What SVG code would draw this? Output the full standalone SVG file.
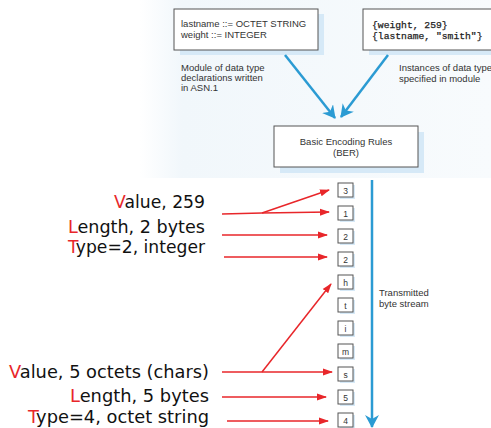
<svg xmlns="http://www.w3.org/2000/svg" width="491" height="428" viewBox="0 0 491 428">
<style>
.box{fill:#fff;stroke:#555;stroke-width:1}
.shadow{fill:#d6e9f7}
.sm{font-family:"Liberation Sans",Arial,sans-serif;font-size:9.5px;fill:#333}
.mono{font-family:"Liberation Mono","Courier New",monospace;font-size:9.7px;fill:#222;stroke:#222;stroke-width:0.25}
.lbl{font-family:"DejaVu Sans","Noto Sans",sans-serif;font-size:18px;fill:#111;text-anchor:end}
.r{fill:#e8262a}
.byte{font-family:"Liberation Sans",Arial,sans-serif;font-size:8.5px;fill:#333;text-anchor:middle}
.red{stroke:#e8262a;stroke-width:1.5;fill:none;marker-end:url(#ra)}
.redn{stroke:#e8262a;stroke-width:1.5;fill:none}
.blue{stroke:#2b9bd3;stroke-width:2.5;fill:none;marker-end:url(#ba)}
</style>
<defs>
<marker id="ra" markerWidth="10" markerHeight="8" refX="9" refY="4" orient="auto" markerUnits="userSpaceOnUse">
<path d="M0,0.5 L10,4 L0,7.5 Z" fill="#e8262a"/>
</marker>
<marker id="ba" markerWidth="14" markerHeight="14" refX="12" refY="7" orient="auto" markerUnits="userSpaceOnUse">
<path d="M0,0 L13,7 L0,14 L4,7 Z" fill="#2b9bd3"/>
</marker>
<linearGradient id="bg" x1="0" y1="0" x2="1" y2="0">
<stop offset="0" stop-color="#f1f7fb" stop-opacity="0"/>
<stop offset="0.12" stop-color="#f1f7fb" stop-opacity="1"/>
<stop offset="1" stop-color="#f8fbfd" stop-opacity="1"/>
</linearGradient>
</defs>
<rect x="140" y="0" width="351" height="178" fill="url(#bg)"/>

<g id="asn-module">
<rect class="shadow" x="180" y="14" width="144" height="41"/>
<rect class="box" x="174" y="9" width="144" height="41"/>
<text class="sm" x="181" y="27">lastname ::= OCTET STRING</text>
<text class="sm" x="181" y="38">weight ::= INTEGER</text>
<text class="sm" x="181" y="71">Module of data type</text>
<text class="sm" x="181" y="81">declarations written</text>
<text class="sm" x="181" y="91">in ASN.1</text>
</g>

<g id="instances">
<rect class="shadow" x="369" y="14" width="126" height="41"/>
<rect class="box" x="363" y="9" width="130" height="41"/>
<text class="mono" x="372" y="28">{weight, 259}</text>
<text class="mono" x="372" y="39">{lastname, "smith"}</text>
<text class="sm" x="399" y="71" font-size="9">Instances of data type</text>
<text class="sm" x="399" y="82" font-size="9">specified in module</text>
</g>

<g id="ber">
<rect class="shadow" x="280" y="132" width="144" height="41"/>
<rect class="box" x="274" y="126" width="144" height="41"/>
<text class="sm" x="346" y="145" text-anchor="middle">Basic Encoding Rules</text>
<text class="sm" x="346" y="156" text-anchor="middle">(BER)</text>
</g>

<g id="bytes">
<g id="b0"><rect class="shadow" x="340" y="185" width="15" height="14"/><rect class="box" x="338" y="183" width="15" height="14"/><text class="byte" x="345.5" y="193.5">3</text></g>
<g id="b1"><rect class="shadow" x="340" y="208" width="15" height="14"/><rect class="box" x="338" y="206" width="15" height="14"/><text class="byte" x="345.5" y="216.5">1</text></g>
<g id="b2"><rect class="shadow" x="340" y="231" width="15" height="14"/><rect class="box" x="338" y="229" width="15" height="14"/><text class="byte" x="345.5" y="239.5">2</text></g>
<g id="b3"><rect class="shadow" x="340" y="254" width="15" height="14"/><rect class="box" x="338" y="252" width="15" height="14"/><text class="byte" x="345.5" y="262.5">2</text></g>
<g id="b4"><rect class="shadow" x="340" y="277" width="15" height="14"/><rect class="box" x="338" y="275" width="15" height="14"/><text class="byte" x="345.5" y="285.5">h</text></g>
<g id="b5"><rect class="shadow" x="340" y="300" width="15" height="14"/><rect class="box" x="338" y="298" width="15" height="14"/><text class="byte" x="345.5" y="308.5">t</text></g>
<g id="b6"><rect class="shadow" x="340" y="323" width="15" height="14"/><rect class="box" x="338" y="321" width="15" height="14"/><text class="byte" x="345.5" y="331.5">i</text></g>
<g id="b7"><rect class="shadow" x="340" y="346" width="15" height="14"/><rect class="box" x="338" y="344" width="15" height="14"/><text class="byte" x="345.5" y="354.5">m</text></g>
<g id="b8"><rect class="shadow" x="340" y="369" width="15" height="14"/><rect class="box" x="338" y="367" width="15" height="14"/><text class="byte" x="345.5" y="377.5">s</text></g>
<g id="b9"><rect class="shadow" x="340" y="392" width="15" height="14"/><rect class="box" x="338" y="390" width="15" height="14"/><text class="byte" x="345.5" y="400.5">5</text></g>
<g id="b10"><rect class="shadow" x="340" y="415" width="15" height="14"/><rect class="box" x="338" y="413" width="15" height="14"/><text class="byte" x="345.5" y="423.5">4</text></g>
</g>

<g id="stream-label">
<text class="sm" x="379" y="296">Transmitted</text>
<text class="sm" x="379" y="307">byte stream</text>
</g>

<g id="labels">
<text class="lbl" x="205" y="208" textLength="91" lengthAdjust="spacingAndGlyphs"><tspan class="r">V</tspan>alue, 259</text>
<text class="lbl" x="205" y="233" textLength="137" lengthAdjust="spacingAndGlyphs"><tspan class="r">L</tspan>ength, 2 bytes</text>
<text class="lbl" x="205" y="253" textLength="137" lengthAdjust="spacingAndGlyphs"><tspan class="r">T</tspan>ype=2, integer</text>
<text class="lbl" x="209" y="378" textLength="200" lengthAdjust="spacingAndGlyphs"><tspan class="r">V</tspan>alue, 5 octets (chars)</text>
<text class="lbl" x="209" y="402" textLength="139" lengthAdjust="spacingAndGlyphs"><tspan class="r">L</tspan>ength, 5 bytes</text>
<text class="lbl" x="209" y="423" textLength="181" lengthAdjust="spacingAndGlyphs"><tspan class="r">T</tspan>ype=4, octet string</text>
</g>

<g id="connectors">
<path class="blue" d="M285,55 L335,118"/>
<path class="blue" d="M388,55 L341,117"/>
<path class="blue" d="M372,180 L372,427"/>
<path class="redn" d="M222,214 L262,213"/>
<path class="red" d="M262,213 L329,190"/>
<path class="red" d="M262,213 L329,212"/>
<path class="red" d="M222,235 L327,235"/>
<path class="red" d="M224,257 L327,257"/>
<path class="red" d="M222,372 L332,372"/>
<path class="red" d="M262,372 L331,284"/>
<path class="red" d="M222,397 L326,397"/>
<path class="red" d="M227,421 L328,421"/>
</g>
</svg>
